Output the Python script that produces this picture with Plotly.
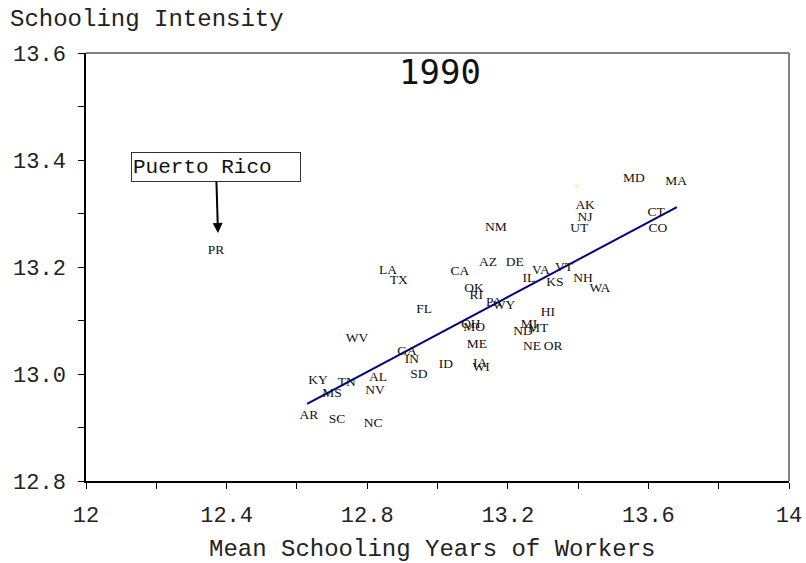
import plotly.graph_objects as go

MONO = "Liberation Mono, Courier New, monospace"
SERIF = "Liberation Serif, Times New Roman, serif"

# state abbreviations with (mean schooling of workers, schooling intensity), 1990
STATES = [
    "LA", "TX", "CA", "AZ", "DE", "NM", "VA", "VT", "IL", "KS", "NH", "WA",
    "AK", "NJ", "UT", "MD", "MA", "CT", "CO", "OK", "RI", "PA", "WY", "FL",
    "HI", "WV", "OH", "MO", "MI", "ND", "MT", "ME", "NE", "OR", "GA", "IN",
    "ID", "IA", "WI", "SD", "AL", "KY", "TN", "NV", "MS", "AR", "SC", "NC",
    "PR",
]
MEAN_SCHOOLING = [
    12.859, 12.890, 13.064, 13.144, 13.220, 13.166, 13.294, 13.360, 13.260, 13.334, 13.414, 13.462,
    13.420, 13.420, 13.403, 13.559, 13.679, 13.622, 13.627, 13.104, 13.110, 13.161, 13.189, 12.962,
    13.314, 12.771, 13.095, 13.104, 13.260, 13.243, 13.286, 13.112, 13.269, 13.329, 12.913, 12.927,
    13.024, 13.121, 13.124, 12.947, 12.831, 12.660, 12.742, 12.822, 12.700, 12.634, 12.714, 12.817,
    12.370,
]
INTENSITY = [
    13.194, 13.174, 13.191, 13.209, 13.209, 13.273, 13.194, 13.198, 13.178, 13.170, 13.178, 13.159,
    13.314, 13.292, 13.271, 13.366, 13.359, 13.301, 13.271, 13.159, 13.146, 13.133, 13.127, 13.121,
    13.114, 13.067, 13.093, 13.086, 13.092, 13.080, 13.084, 13.054, 13.052, 13.052, 13.041, 13.026,
    13.017, 13.019, 13.011, 12.998, 12.994, 12.987, 12.983, 12.968, 12.963, 12.923, 12.914, 12.907,
    13.230,
]

# fitted line end points and the pale "x" marker
FIT_X = [12.629, 13.681]
FIT_Y = [12.944, 13.312]
MARK_X = [13.397]
MARK_Y = [13.351]

# arrow tip for the Puerto Rico callout
PR_ARROW = (12.3755, 13.2636)

X_TICKS = [12, 12.4, 12.8, 13.2, 13.6, 14]
X_TICK_TEXT = ["12", "12.4", "12.8", "13.2", "13.6", "14"]
Y_TICKS = [12.8, 13.0, 13.2, 13.4, 13.6]
Y_TICK_TEXT = ["12.8", "13.0", "13.2", "13.4", "13.6"]

fig = go.Figure()

fig.add_trace(
    go.Scatter(
        x=FIT_X,
        y=FIT_Y,
        mode="lines",
        line={"color": "#00007f", "width": 2},
        hoverinfo="skip",
    )
)
fig.add_trace(
    go.Scatter(
        x=MEAN_SCHOOLING,
        y=INTENSITY,
        mode="text",
        text=STATES,
        textposition="middle center",
        textfont={"family": SERIF, "size": 13.5, "color": "#111111"},
    )
)
fig.add_trace(
    go.Scatter(
        x=MARK_X,
        y=MARK_Y,
        mode="markers",
        marker={"symbol": "x-thin", "size": 5, "line": {"color": "#f6f0a8", "width": 1}},
        hoverinfo="skip",
    )
)

fig.add_annotation(
    x=PR_ARROW[0],
    y=PR_ARROW[1],
    ax=-2,
    ay=-66,
    text="Puerto Rico",
    showarrow=True,
    arrowhead=2,
    arrowsize=1,
    arrowwidth=2,
    arrowcolor="#000000",
    standoff=0,
    font={"family": MONO, "size": 21, "color": "#111111"},
    align="left",
    width=166,
    height=26,
    bordercolor="#333333",
    borderwidth=1,
    borderpad=1,
    bgcolor="white",
)
fig.add_annotation(
    text="1990",
    xref="paper",
    yref="paper",
    x=0.5036,
    y=0.956,
    xanchor="center",
    yanchor="middle",
    showarrow=False,
    font={"family": "DejaVu Sans Mono, monospace", "size": 34, "color": "#111111"},
)
fig.add_annotation(
    text="Schooling Intensity",
    xref="paper",
    yref="paper",
    x=-0.111,
    y=1.078,
    xanchor="left",
    yanchor="middle",
    showarrow=False,
    font={"family": MONO, "size": 24, "color": "#222222"},
)
fig.add_annotation(
    text="Mean Schooling Years of Workers",
    xref="paper",
    yref="paper",
    x=0.492,
    y=-0.159,
    xanchor="center",
    yanchor="middle",
    showarrow=False,
    font={"family": MONO, "size": 24, "color": "#222222"},
)

# grey frame on top and right
fig.add_shape(type="line", xref="paper", yref="paper", x0=0, x1=1, y0=1, y1=1,
              line={"color": "#808080", "width": 2})
fig.add_shape(type="line", xref="paper", yref="paper", x0=1, x1=1, y0=0, y1=1,
              line={"color": "#808080", "width": 2})

fig.update_xaxes(
    range=[12, 14],
    tickvals=X_TICKS,
    ticktext=X_TICK_TEXT,
    ticks="outside",
    ticklen=6,
    tickcolor="#000000",
    showline=True,
    linecolor="#000000",
    linewidth=1.5,
    showgrid=False,
    zeroline=False,
    automargin=False,
    tickfont={"family": MONO, "size": 22, "color": "#222222"},
    minor={"dtick": 0.2, "ticks": "outside", "ticklen": 6, "tickcolor": "#000000", "showgrid": False},
    ticklabelstandoff=7,
)
fig.update_yaxes(
    range=[12.8, 13.6],
    tickvals=Y_TICKS,
    ticktext=Y_TICK_TEXT,
    ticks="outside",
    ticklen=6,
    tickcolor="#000000",
    showline=True,
    linecolor="#000000",
    linewidth=1.5,
    showgrid=False,
    zeroline=False,
    automargin=False,
    tickfont={"family": MONO, "size": 22, "color": "#222222"},
    minor={"dtick": 0.1, "ticks": "outside", "ticklen": 6, "tickcolor": "#000000", "showgrid": False},
    ticklabelstandoff=8,
)

fig.update_layout(
    width=806,
    height=563,
    showlegend=False,
    plot_bgcolor="white",
    paper_bgcolor="white",
    margin={"l": 86, "r": 17, "t": 53, "b": 82},
    hovermode="closest",
)

# drop the default page margin so the figure sits at the window's corner
fig.write_html(
    "out.html",
    config={"displayModeBar": False},
    post_script="document.body.style.margin='0';document.body.style.overflow='hidden';",
)
